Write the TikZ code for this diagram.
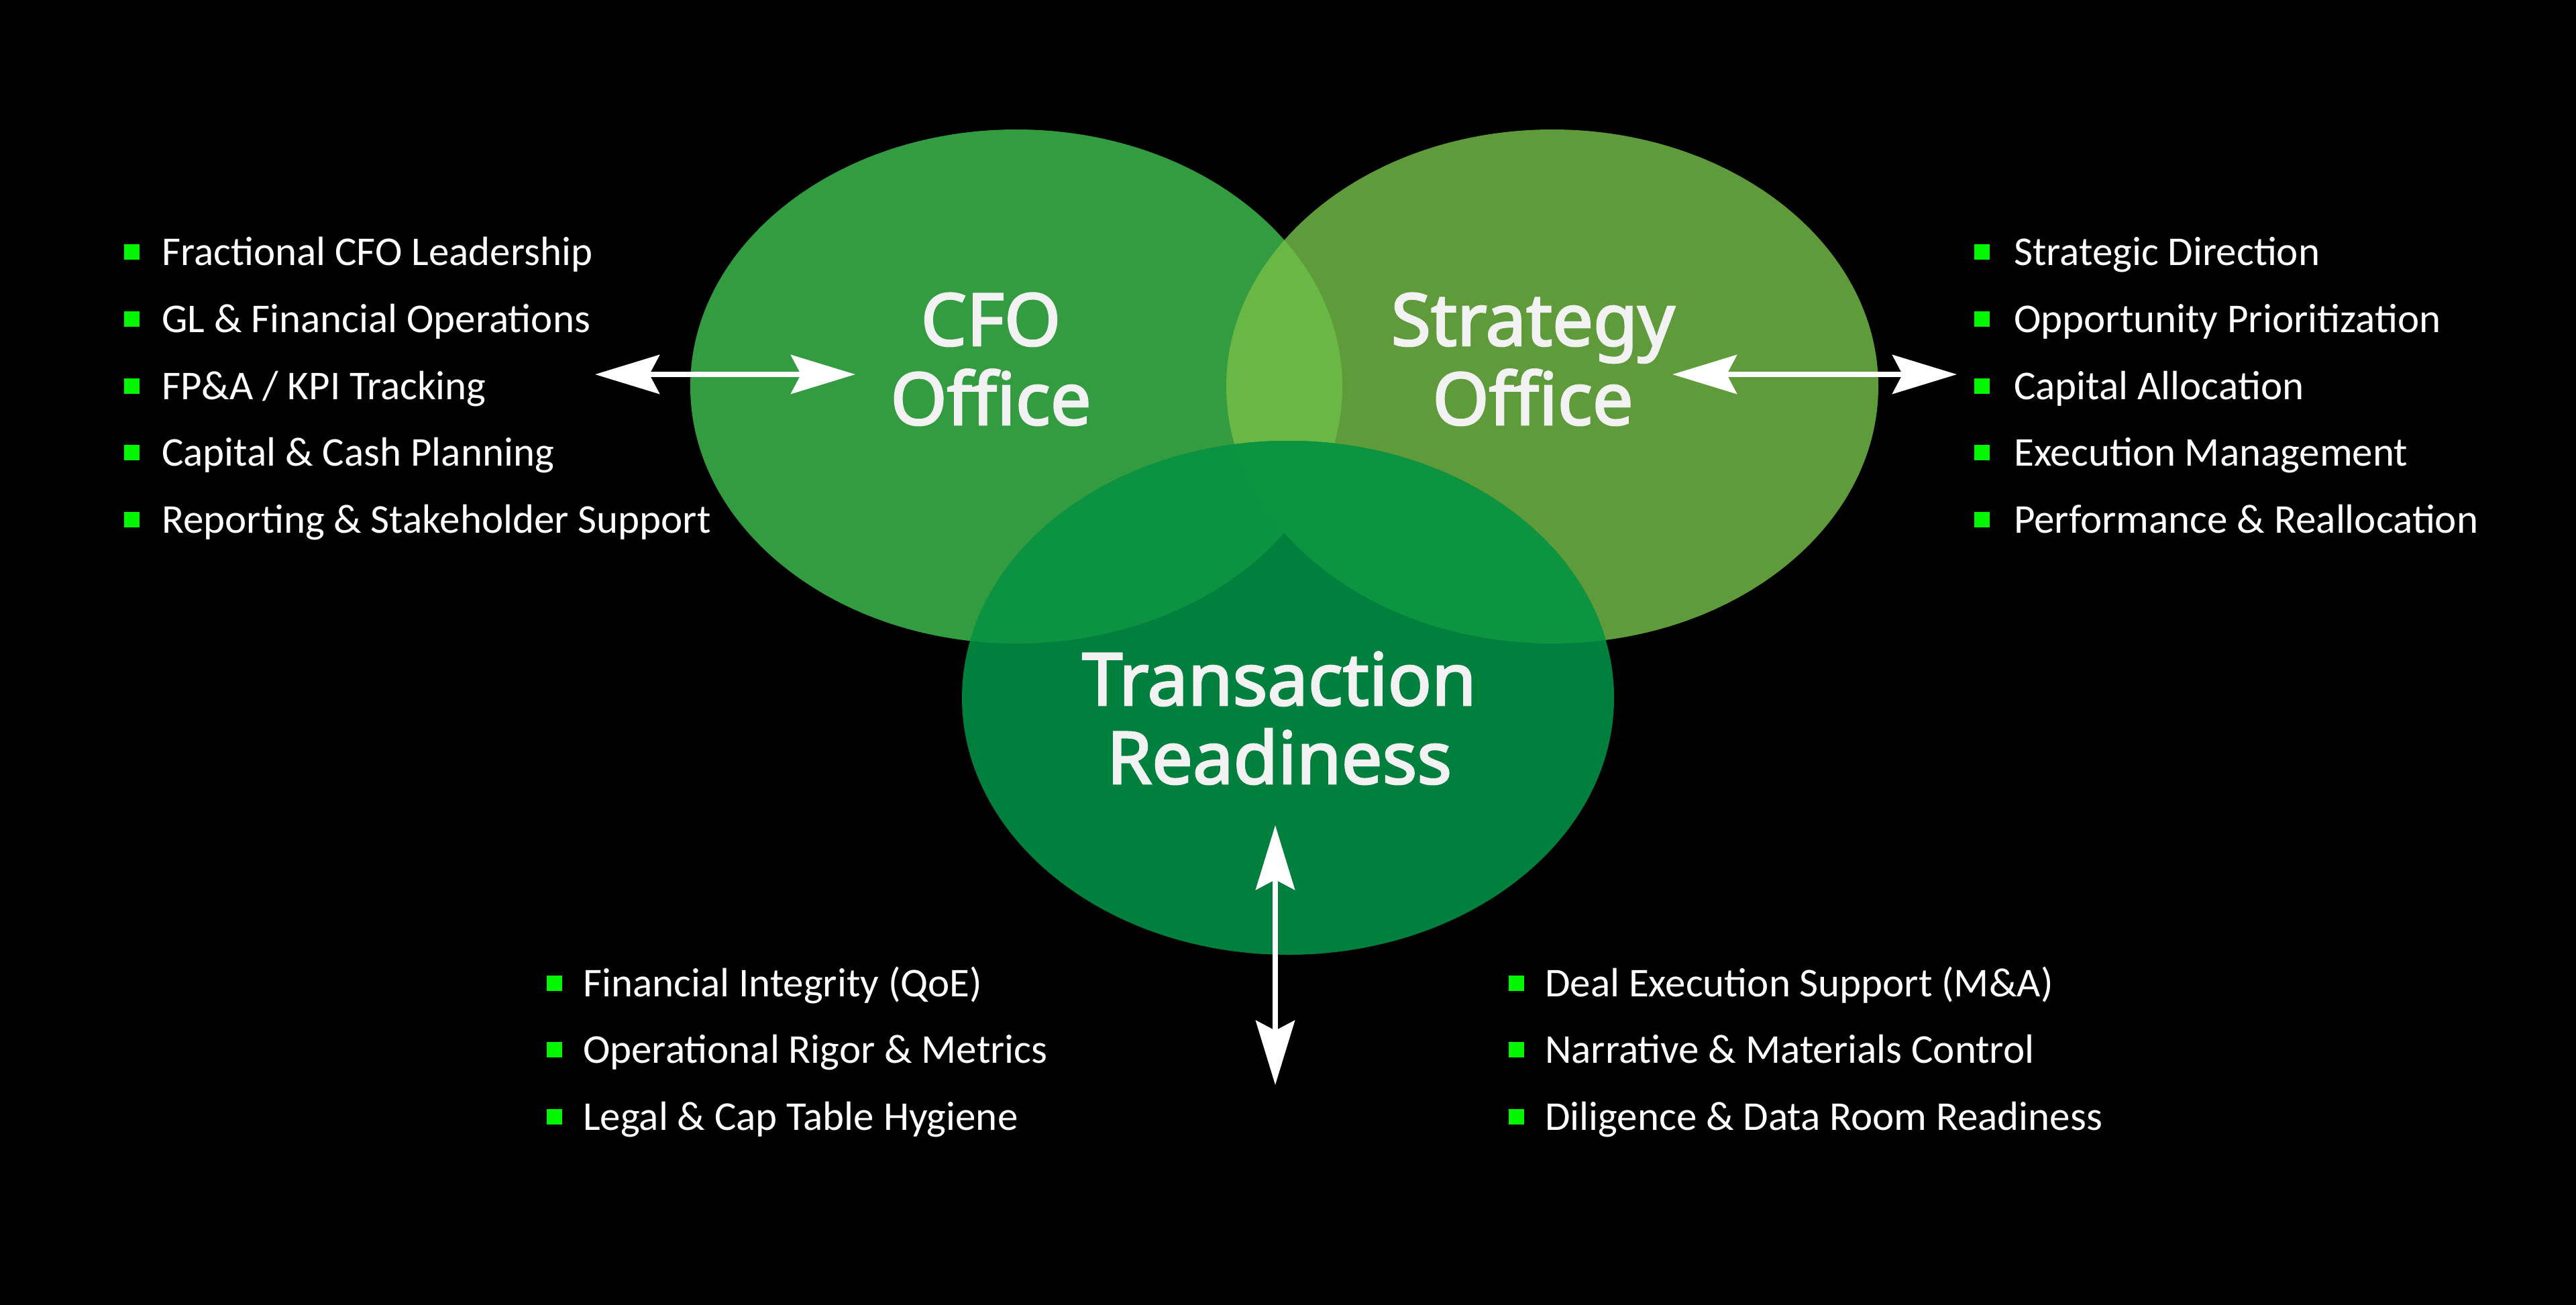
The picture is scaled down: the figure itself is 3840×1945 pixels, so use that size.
\documentclass[tikz,border=0pt]{standalone}
\usepackage{fontspec}
\setmainfont{Carlito}
\newfontfamily\titlefont[FakeBold=2.6]{Noto Sans}
\usetikzlibrary{arrows.meta}
\definecolor{cfocol}{HTML}{339C41}
\definecolor{stratcol}{HTML}{5F9B3A}
\definecolor{lenscol}{HTML}{69B846}
\definecolor{transcol}{HTML}{007F3D}
\definecolor{ctcol}{HTML}{0B9341}
\definecolor{stcol}{HTML}{0D9441}
\definecolor{bulgreen}{HTML}{00F500}
\definecolor{titlewhite}{HTML}{F2F2F2}
\begin{document}
\begin{tikzpicture}[x=1pt,y=-1pt,
  bul/.style={fill=bulgreen, minimum size=23pt, inner sep=0pt, outer sep=0pt},
  listtext/.style={anchor=base west, text=white, inner sep=0pt, font=\fontsize{61}{68}\selectfont},
  titletext/.style={anchor=base, text=titlewhite, inner sep=0pt, font=\titlefont\fontsize{108}{118}\selectfont},
  dblarrow/.style={white, line width=7.5pt,
    {Stealth[length=96pt,width=58pt,inset=15pt]}-{Stealth[length=96pt,width=58pt,inset=15pt]}}
]
\useasboundingbox (0,0) rectangle (3840,1945);
\fill[black] (0,0) rectangle (3840,1945);

% ellipse centres
\coordinate (cC) at (1515,576);
\coordinate (cS) at (2314,576);
\coordinate (cT) at (1920,1040);
\def\erx{486}\def\ery{383}

% CFO and Strategy
\fill[cfocol] (cC) ellipse [x radius=\erx, y radius=\ery];
\fill[stratcol] (cS) ellipse [x radius=\erx, y radius=\ery];
\begin{scope}
  \clip (cC) ellipse [x radius=\erx, y radius=\ery];
  \fill[lenscol] (cS) ellipse [x radius=\erx, y radius=\ery];
\end{scope}
% Transaction
\fill[transcol] (cT) ellipse [x radius=\erx, y radius=\ery];
\begin{scope}
  \clip (cT) ellipse [x radius=\erx, y radius=\ery];
  \fill[ctcol] (cC) ellipse [x radius=\erx, y radius=\ery];
  \fill[stcol] (cS) ellipse [x radius=\erx, y radius=\ery];
\end{scope}

% titles
\node[titletext] (cfoA) at (1477,515) {CFO};
\node[titletext] (cfoB) at (1477,633) {Office};
\node[titletext] (strA) at (2285,515) {Strategy};
\node[titletext] (strB) at (2285,633) {Office};
\node[titletext] (trA) at (1907,1051) {Transaction};
\node[titletext] (trB) at (1907,1168) {Readiness};

% arrows
\coordinate (laL) at (887,558);
\coordinate (laR) at (1275,558);
\coordinate (raL) at (2493,558);
\coordinate (raR) at (2917,558);
\coordinate (vaT) at (1901,1230);
\coordinate (vaB) at (1901,1617);
\draw[dblarrow] (laL) -- (laR);
\draw[dblarrow] (raL) -- (raR);
\draw[dblarrow] (vaT) -- (vaB);

% left list
\node[bul] (lb1) at (196,375) {};
\node[bul] (lb2) at (196,475) {};
\node[bul] (lb3) at (196,575) {};
\node[bul] (lb4) at (196,674) {};
\node[bul] (lb5) at (196,774) {};
\node[listtext] (lt1) at (241,395) {Fractional CFO Leadership};
\node[listtext] (lt2) at (241,495) {GL \& Financial Operations};
\node[listtext] (lt3) at (241,595) {FP\&A / KPI Tracking};
\node[listtext] (lt4) at (241,694) {Capital \& Cash Planning};
\node[listtext] (lt5) at (241,794) {Reporting \& Stakeholder Support};

% right list
\node[bul] (rb1) at (2954,375) {};
\node[bul] (rb2) at (2954,475) {};
\node[bul] (rb3) at (2954,575) {};
\node[bul] (rb4) at (2954,674) {};
\node[bul] (rb5) at (2954,774) {};
\node[listtext] (rt1) at (3002,395) {Strategic Direction};
\node[listtext] (rt2) at (3002,495) {Opportunity Prioritization};
\node[listtext] (rt3) at (3002,595) {Capital Allocation};
\node[listtext] (rt4) at (3002,694) {Execution Management};
\node[listtext] (rt5) at (3002,794) {Performance \& Reallocation};

% bottom left list
\node[bul] (bl1) at (826,1465) {};
\node[bul] (bl2) at (826,1564) {};
\node[bul] (bl3) at (826,1664) {};
\node[listtext] (blt1) at (869,1485) {Financial Integrity (QoE)};
\node[listtext] (blt2) at (869,1584) {Operational Rigor \& Metrics};
\node[listtext] (blt3) at (869,1684) {Legal \& Cap Table Hygiene};

% bottom right list
\node[bul] (br1) at (2260,1465) {};
\node[bul] (br2) at (2260,1564) {};
\node[bul] (br3) at (2260,1664) {};
\node[listtext] (brt1) at (2303,1485) {Deal Execution Support (M\&A)};
\node[listtext] (brt2) at (2303,1584) {Narrative \& Materials Control};
\node[listtext] (brt3) at (2303,1684) {Diligence \& Data Room Readiness};
\end{tikzpicture}
\end{document}
